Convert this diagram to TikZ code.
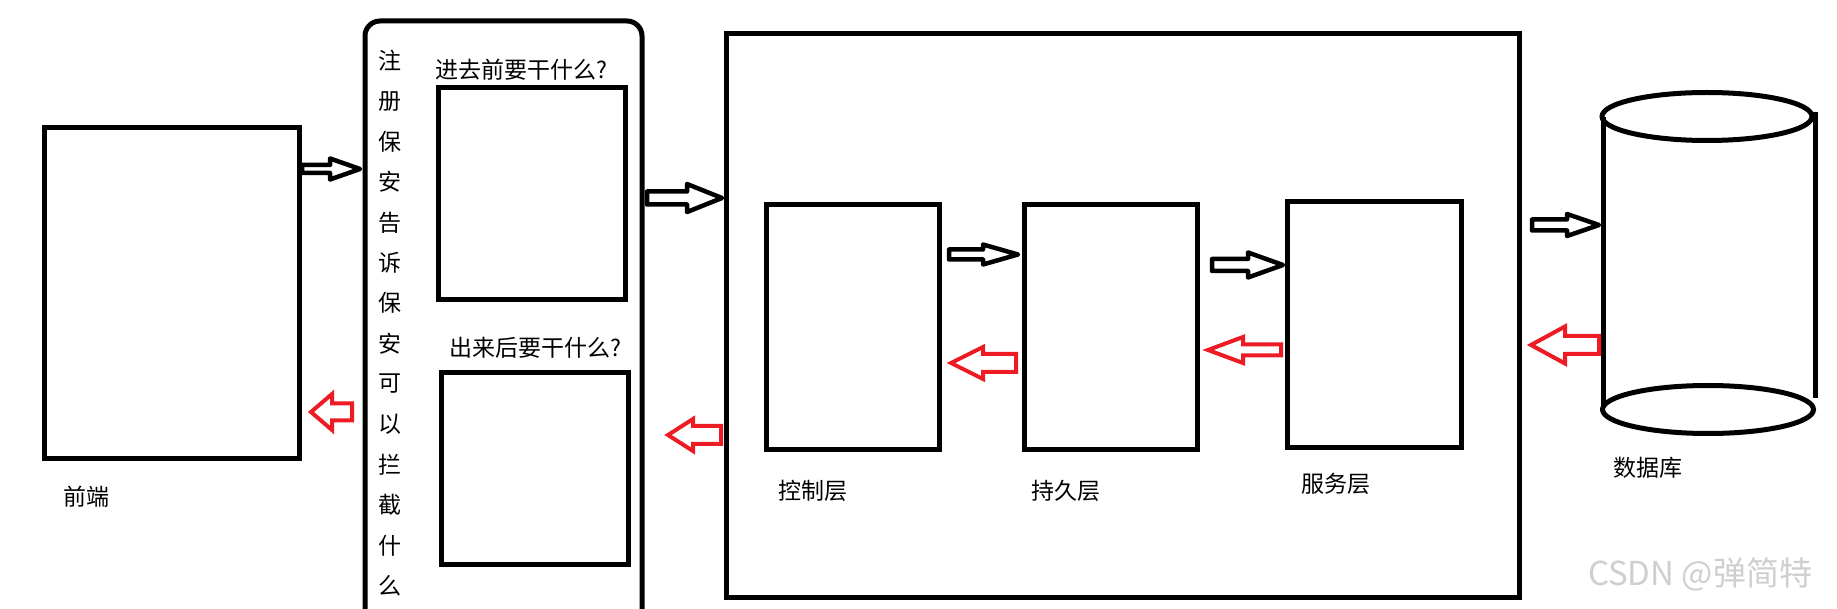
\documentclass[tikz,border=0pt]{standalone}
\usepackage{fontspec}
\newfontfamily\cjk{Noto Sans CJK SC}
\definecolor{pred}{HTML}{ED1C24}
\definecolor{wmgray}{HTML}{CFCFCF}
\newcommand\mybox[5]{\node[box,minimum width={(#4)-(#2)},minimum height={(#5)-(#3)}] (#1) at ({((#2)+(#4))/2},{((#3)+(#5))/2}) {};}
\newcommand\barrow[7]{\draw[#1] (#2,{#5-#6}) -- (#3,{#5-#6}) -- (#3,{#5-#7}) -- (#4,#5) -- (#3,{#5+#7}) -- (#3,{#5+#6}) -- (#2,{#5+#6}) -- cycle;}
\begin{document}
\begin{tikzpicture}[x=1pt,y=-1pt,
  box/.style={draw,line width=5pt,inner sep=0pt,outer sep=0pt},
  lbl/.style={font=\cjk\fontsize{23}{23}\selectfont,inner sep=0pt},
  barb/.style={draw=black,line width=4.5pt,line join=round},
  barr/.style={draw=pred,line width=4pt,line join=miter}]
\clip (0,0) rectangle (1837,609);
\fill[white] (0,0) rectangle (1837,609);
% front end
\mybox{fe}{44.5}{128}{299.5}{458.5}
\node[lbl] (felbl) at (86,497) {前端};
% security box
\draw[line width=5pt,rounded corners=15pt] (365,650) -- (365,21) -- (642,21) -- (642,650);
\foreach \c [count=\i from 0] in {注,册,保,安,告,诉,保,安,可,以,拦,截,什,么}
  \node[lbl] (v\i) at (390,{61+40.37*\i}) {\c};
\node[lbl] (inlbl) at (521,70) {进去前要干什么?};
\mybox{inbox}{438}{88}{625}{300}
\node[lbl] (outlbl) at (535,348) {出来后要干什么?};
\mybox{outbox}{441.5}{372.5}{628.5}{564.5}
% main box
\mybox{main}{726.5}{33.5}{1519.5}{597.5}
\mybox{ctl}{766.5}{204.5}{939.5}{449.5}
\mybox{per}{1024.5}{204.5}{1197}{449.5}
\mybox{svc}{1287}{202}{1461}{447.5}
\node[lbl] (ctllbl) at (813,491) {控制层};
\node[lbl] (perlbl) at (1066,491) {持久层};
\node[lbl] (svclbl) at (1336,484) {服务层};
% database
\draw[line width=5pt] (1707,116.5) ellipse [x radius=105, y radius=24];
\draw[line width=5pt] (1708,409.5) ellipse [x radius=105.5, y radius=24];
\draw[line width=5pt] (1603,117) -- (1603,405);
\draw[line width=5pt] (1815,112) -- (1815,398);
\node[lbl] (dblbl) at (1648,468) {数据库};
% arrows
\barrow{barb}{302}{330}{360}{169}{4}{10.5}
\barrow{barr}{352}{332}{311}{412}{8.5}{18}
\barrow{barb}{647}{687}{722}{198}{6.5}{14}
\barrow{barr}{721}{693}{668}{435}{9}{16}
\barrow{barb}{949}{983}{1018}{254.5}{5}{10}
\barrow{barr}{1016}{983}{951}{363}{9}{16}
\barrow{barb}{1212}{1248}{1283}{265}{6}{12.5}
\barrow{barr}{1281}{1243}{1208}{350}{5.5}{13}
\barrow{barb}{1532}{1567}{1599}{225}{5.5}{11}
\barrow{barr}{1599}{1565}{1531}{345}{9}{18.5}
% watermark
\node[font=\cjk\fontsize{33}{33}\selectfont,text=wmgray,inner sep=0pt] (wm) at (1700,574) {CSDN @弹简特};
\end{tikzpicture}
\end{document}
